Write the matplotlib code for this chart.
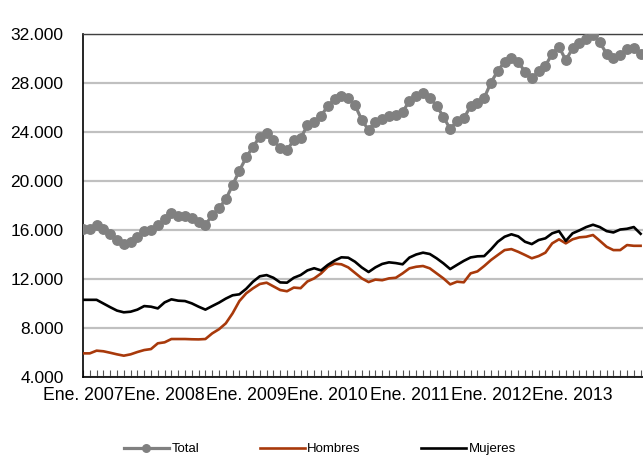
import matplotlib
matplotlib.use('Agg')
import matplotlib.pyplot as plt

# monthly values, Jan 2007 - Nov 2013 (chart is cut off on the right)
total = [16100, 16100, 16400, 16050, 15640, 15180, 14840, 15040, 15450, 15880, 16000, 16380,
         16880, 17350, 17180, 17180, 16980, 16670, 16430, 17190, 17800, 18500, 19670, 20840,
         21930, 22800, 23610, 23880, 23340, 22660, 22520, 23340, 23470, 24560, 24830, 25320,
         26110, 26680, 26930, 26740, 26200, 24970, 24160, 24830, 25100, 25320, 25380, 25650,
         26520, 26950, 27150, 26790, 26140, 25240, 24240, 24890, 25110, 26110, 26330, 26790,
         28040, 28990, 29730, 30050, 29730, 28910, 28370, 28970, 29400, 30400, 30950, 29870,
         30820, 31230, 31580, 31910, 31310, 30400, 30060, 30280, 30770, 30870, 30330]

hombres = [5930, 5930, 6150, 6100, 5980, 5850, 5740, 5850, 6040, 6200, 6280, 6750,
           6830, 7100, 7100, 7100, 7080, 7070, 7100, 7560, 7900, 8380, 9200, 10200,
           10830, 11240, 11590, 11700, 11400, 11100, 11000, 11300, 11250, 11800, 12050, 12450,
           13000, 13250, 13200, 12950, 12500, 12050, 11750, 11950, 11900, 12050, 12100, 12460,
           12870, 13000, 13060, 12870, 12460, 12050, 11560, 11780, 11730, 12460, 12620, 13060,
           13550, 13960, 14360, 14440, 14220, 13960, 13690, 13870, 14150, 14910, 15240, 14910,
           15240, 15400, 15450, 15590, 15120, 14630, 14360, 14360, 14770, 14710, 14710]

mujeres = [10300, 10300, 10300, 10000, 9700, 9420, 9280, 9330, 9500, 9790, 9740, 9600,
           10090, 10340, 10230, 10200, 10010, 9740, 9500, 9790, 10070, 10400, 10670, 10750,
           11200, 11780, 12220, 12320, 12100, 11720, 11700, 12100, 12320, 12700, 12880, 12700,
           13150, 13500, 13770, 13740, 13410, 12940, 12570, 12950, 13230, 13360, 13300, 13200,
           13750, 14000, 14150, 14040, 13690, 13280, 12810, 13150, 13480, 13760, 13850, 13870,
           14420, 15040, 15450, 15650, 15480, 15040, 14850, 15180, 15320, 15730, 15910, 15110,
           15730, 15970, 16240, 16430, 16240, 15910, 15800, 16040, 16100, 16240, 15690]

years = ['2007', '2008', '2009', '2010', '2011', '2012', '2013']
yticks = [4000, 8000, 12000, 16000, 20000, 24000, 28000, 32000]

plt.rcParams['font.family'] = ['Liberation Sans', 'DejaVu Sans']

fig = plt.figure(figsize=(6.43, 4.58), dpi=100)
# right edge of the plot runs past the figure, like the cropped original
ax = fig.add_axes([83/643, 81/458, 564.4/643, 343/458])

x = list(range(len(total)))
ax.plot(x, total, color='#808080', lw=2.3, marker='o', ms=6.8, label='Total', zorder=3)
ax.plot(x, hombres, color='#A8390B', lw=1.9, label='Hombres', zorder=4)
ax.plot(x, mujeres, color='black', lw=1.9, label='Mujeres', zorder=5)

ax.set_xlim(0, 83)
ax.set_ylim(4000, 32000)
ax.set_yticks(yticks)
ax.set_yticklabels([f'{v:,}'.replace(',', '.') for v in yticks], fontsize=12.5)
ax.yaxis.grid(True, color='#C0C0C0', lw=1.6)
ax.set_axisbelow(True)

labels = []
for i in range(84):
    labels.append('Ene. ' + years[i // 12] if i % 12 == 0 and i // 12 < len(years) else '')
ax.set_xticks(range(84))
ax.set_xticklabels(labels, fontsize=12.7)
ax.tick_params(axis='x', direction='in', length=5, width=0.8, color='#555555', pad=7.5)
ax.tick_params(axis='y', length=0, pad=14)

ax.spines['top'].set_color('#404040')
ax.spines['top'].set_linewidth(1.0)
ax.spines['left'].set_linewidth(1.2)
ax.spines['bottom'].set_linewidth(1.2)
ax.spines['right'].set_visible(False)

leg = fig.legend(loc='center', bbox_to_anchor=(320/643, 9/458), ncol=3, frameon=False,
                 fontsize=9.5, handlelength=3.4, handletextpad=0.2, columnspacing=4.6,
                 numpoints=1, markerscale=0.8)

fig.savefig('out.png', dpi=100)
